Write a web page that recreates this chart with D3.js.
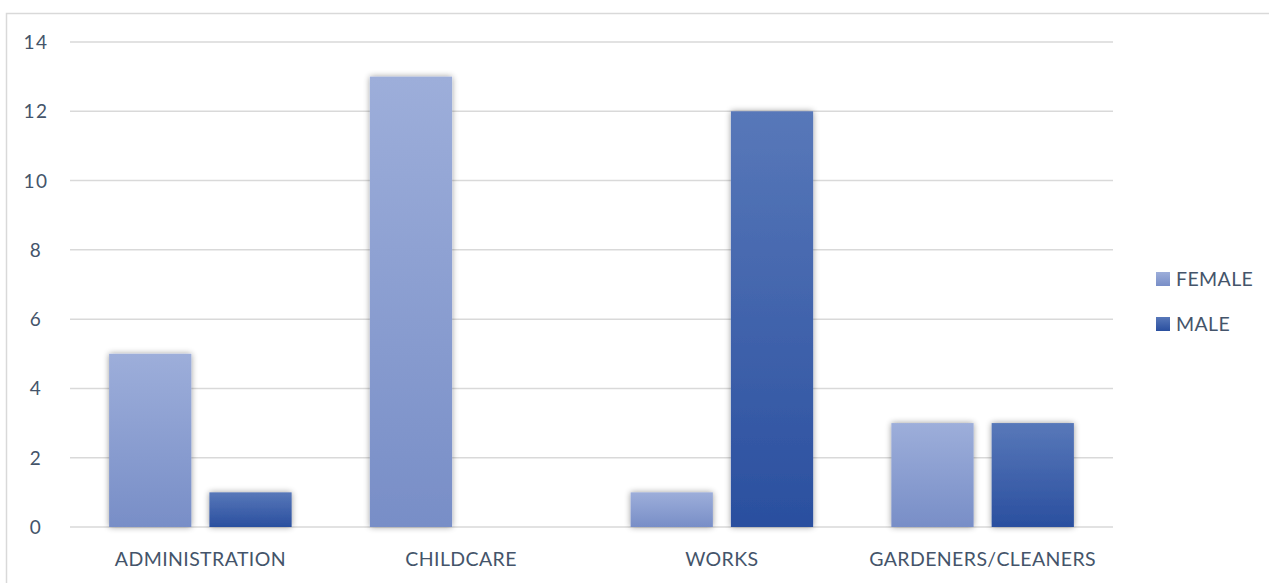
<!DOCTYPE html>
<html>
<head>
<meta charset="utf-8">
<script src="https://cdn.jsdelivr.net/npm/d3@7"></script>
<style>
  body { margin: 0; background: #fff; }
  svg { display: block; font-family: Lato, "Open Sans", sans-serif; }
</style>
</head>
<body>
<svg id="chart" width="1269" height="583"></svg>
<script>
const categories = ['ADMINISTRATION', 'CHILDCARE', 'WORKS', 'GARDENERS/CLEANERS'];
const seriesNames = ['FEMALE', 'MALE'];
const femaleValues = [5, 13, 1, 3];
const maleValues = [1, 0, 12, 3];
const yTicks = [0, 2, 4, 6, 8, 10, 12, 14];

const svg = d3.select('#chart');
const textColor = '#44546A';

// chart border
svg.append('rect')
    .attr('x', 6.5).attr('y', 13.5)
    .attr('width', 1269).attr('height', 600)
    .attr('fill', 'none')
    .attr('stroke', '#D9D9D9')
    .attr('stroke-width', 1.5);

const defs = svg.append('defs');
const grads = [
    { id: 'gFemale', top: '#9DAEDA', bottom: '#788EC7' },
    { id: 'gMale', top: '#5878B9', bottom: '#2A4F9F' }
];
grads.forEach(g => {
    const lg = defs.append('linearGradient')
        .attr('id', g.id)
        .attr('x1', 0).attr('y1', 0).attr('x2', 0).attr('y2', 1);
    lg.append('stop').attr('offset', '0%').attr('stop-color', g.top);
    lg.append('stop').attr('offset', '100%').attr('stop-color', g.bottom);
});
const shadow = defs.append('filter').attr('id', 'shadow')
    .attr('x', '-20%').attr('y', '-20%').attr('width', '140%').attr('height', '140%');
shadow.append('feGaussianBlur').attr('in', 'SourceAlpha').attr('stdDeviation', 3).attr('result', 'blur');
shadow.append('feComponentTransfer').append('feFuncA').attr('type', 'linear').attr('slope', 0.4);
const merge = shadow.append('feMerge');
merge.append('feMergeNode');
merge.append('feMergeNode').attr('in', 'SourceGraphic');

const x0 = d3.scaleBand()
    .domain(categories)
    .range([70, 1113])
    .paddingInner(0.3)
    .paddingOuter(0.15);
const x1 = d3.scaleBand()
    .domain(seriesNames)
    .range([0, x0.bandwidth()])
    .paddingInner(0.18);
const y = d3.scaleLinear()
    .domain([0, 14])
    .range([527, 42]);

// gridlines
svg.append('g')
    .selectAll('line')
    .data(yTicks)
    .join('line')
    .attr('x1', 70).attr('x2', 1113)
    .attr('y1', d => y(d)).attr('y2', d => y(d))
    .attr('stroke', '#D9D9D9')
    .attr('stroke-width', 1.5);

// y labels
svg.append('g')
    .selectAll('text')
    .data(yTicks)
    .join('text')
    .attr('x', 36)
    .attr('y', d => y(d) + 7)
    .attr('text-anchor', 'middle')
    .attr('fill', textColor)
    .style('font-size', '19px')
    .style('letter-spacing', '1.5px')
    .text(d => d);

// bars
const rows = categories.map((c, i) => ({ cat: c, FEMALE: femaleValues[i], MALE: maleValues[i] }));
const fills = { FEMALE: 'url(#gFemale)', MALE: 'url(#gMale)' };
svg.append('g')
    .selectAll('g')
    .data(rows)
    .join('g')
    .attr('transform', d => `translate(${x0(d.cat)},0)`)
    .selectAll('rect')
    .data(d => seriesNames.map(s => ({ s, v: d[s] })).filter(e => e.v > 0))
    .join('rect')
    .attr('x', d => x1(d.s))
    .attr('y', d => y(d.v))
    .attr('width', x1.bandwidth())
    .attr('height', d => y(0) - y(d.v))
    .attr('fill', d => fills[d.s])
    .attr('filter', 'url(#shadow)');

// x labels
svg.append('g')
    .selectAll('text')
    .data(categories)
    .join('text')
    .attr('x', d => x0(d) + x0.bandwidth() / 2)
    .attr('y', 566)
    .attr('text-anchor', 'middle')
    .attr('fill', textColor)
    .style('font-size', '19.5px')
    .style('letter-spacing', '0.4px')
    .text(d => d);

// legend
const legend = svg.append('g')
    .selectAll('g')
    .data(seriesNames)
    .join('g')
    .attr('transform', (d, i) => `translate(1156,${272 + i * 45})`);
legend.append('rect')
    .attr('width', 14).attr('height', 14)
    .attr('fill', d => fills[d]);
legend.append('text')
    .attr('x', 20).attr('y', 14)
    .attr('fill', textColor)
    .style('font-size', '19.5px')
    .style('letter-spacing', '0.4px')
    .text(d => d);
</script>
</body>
</html>
